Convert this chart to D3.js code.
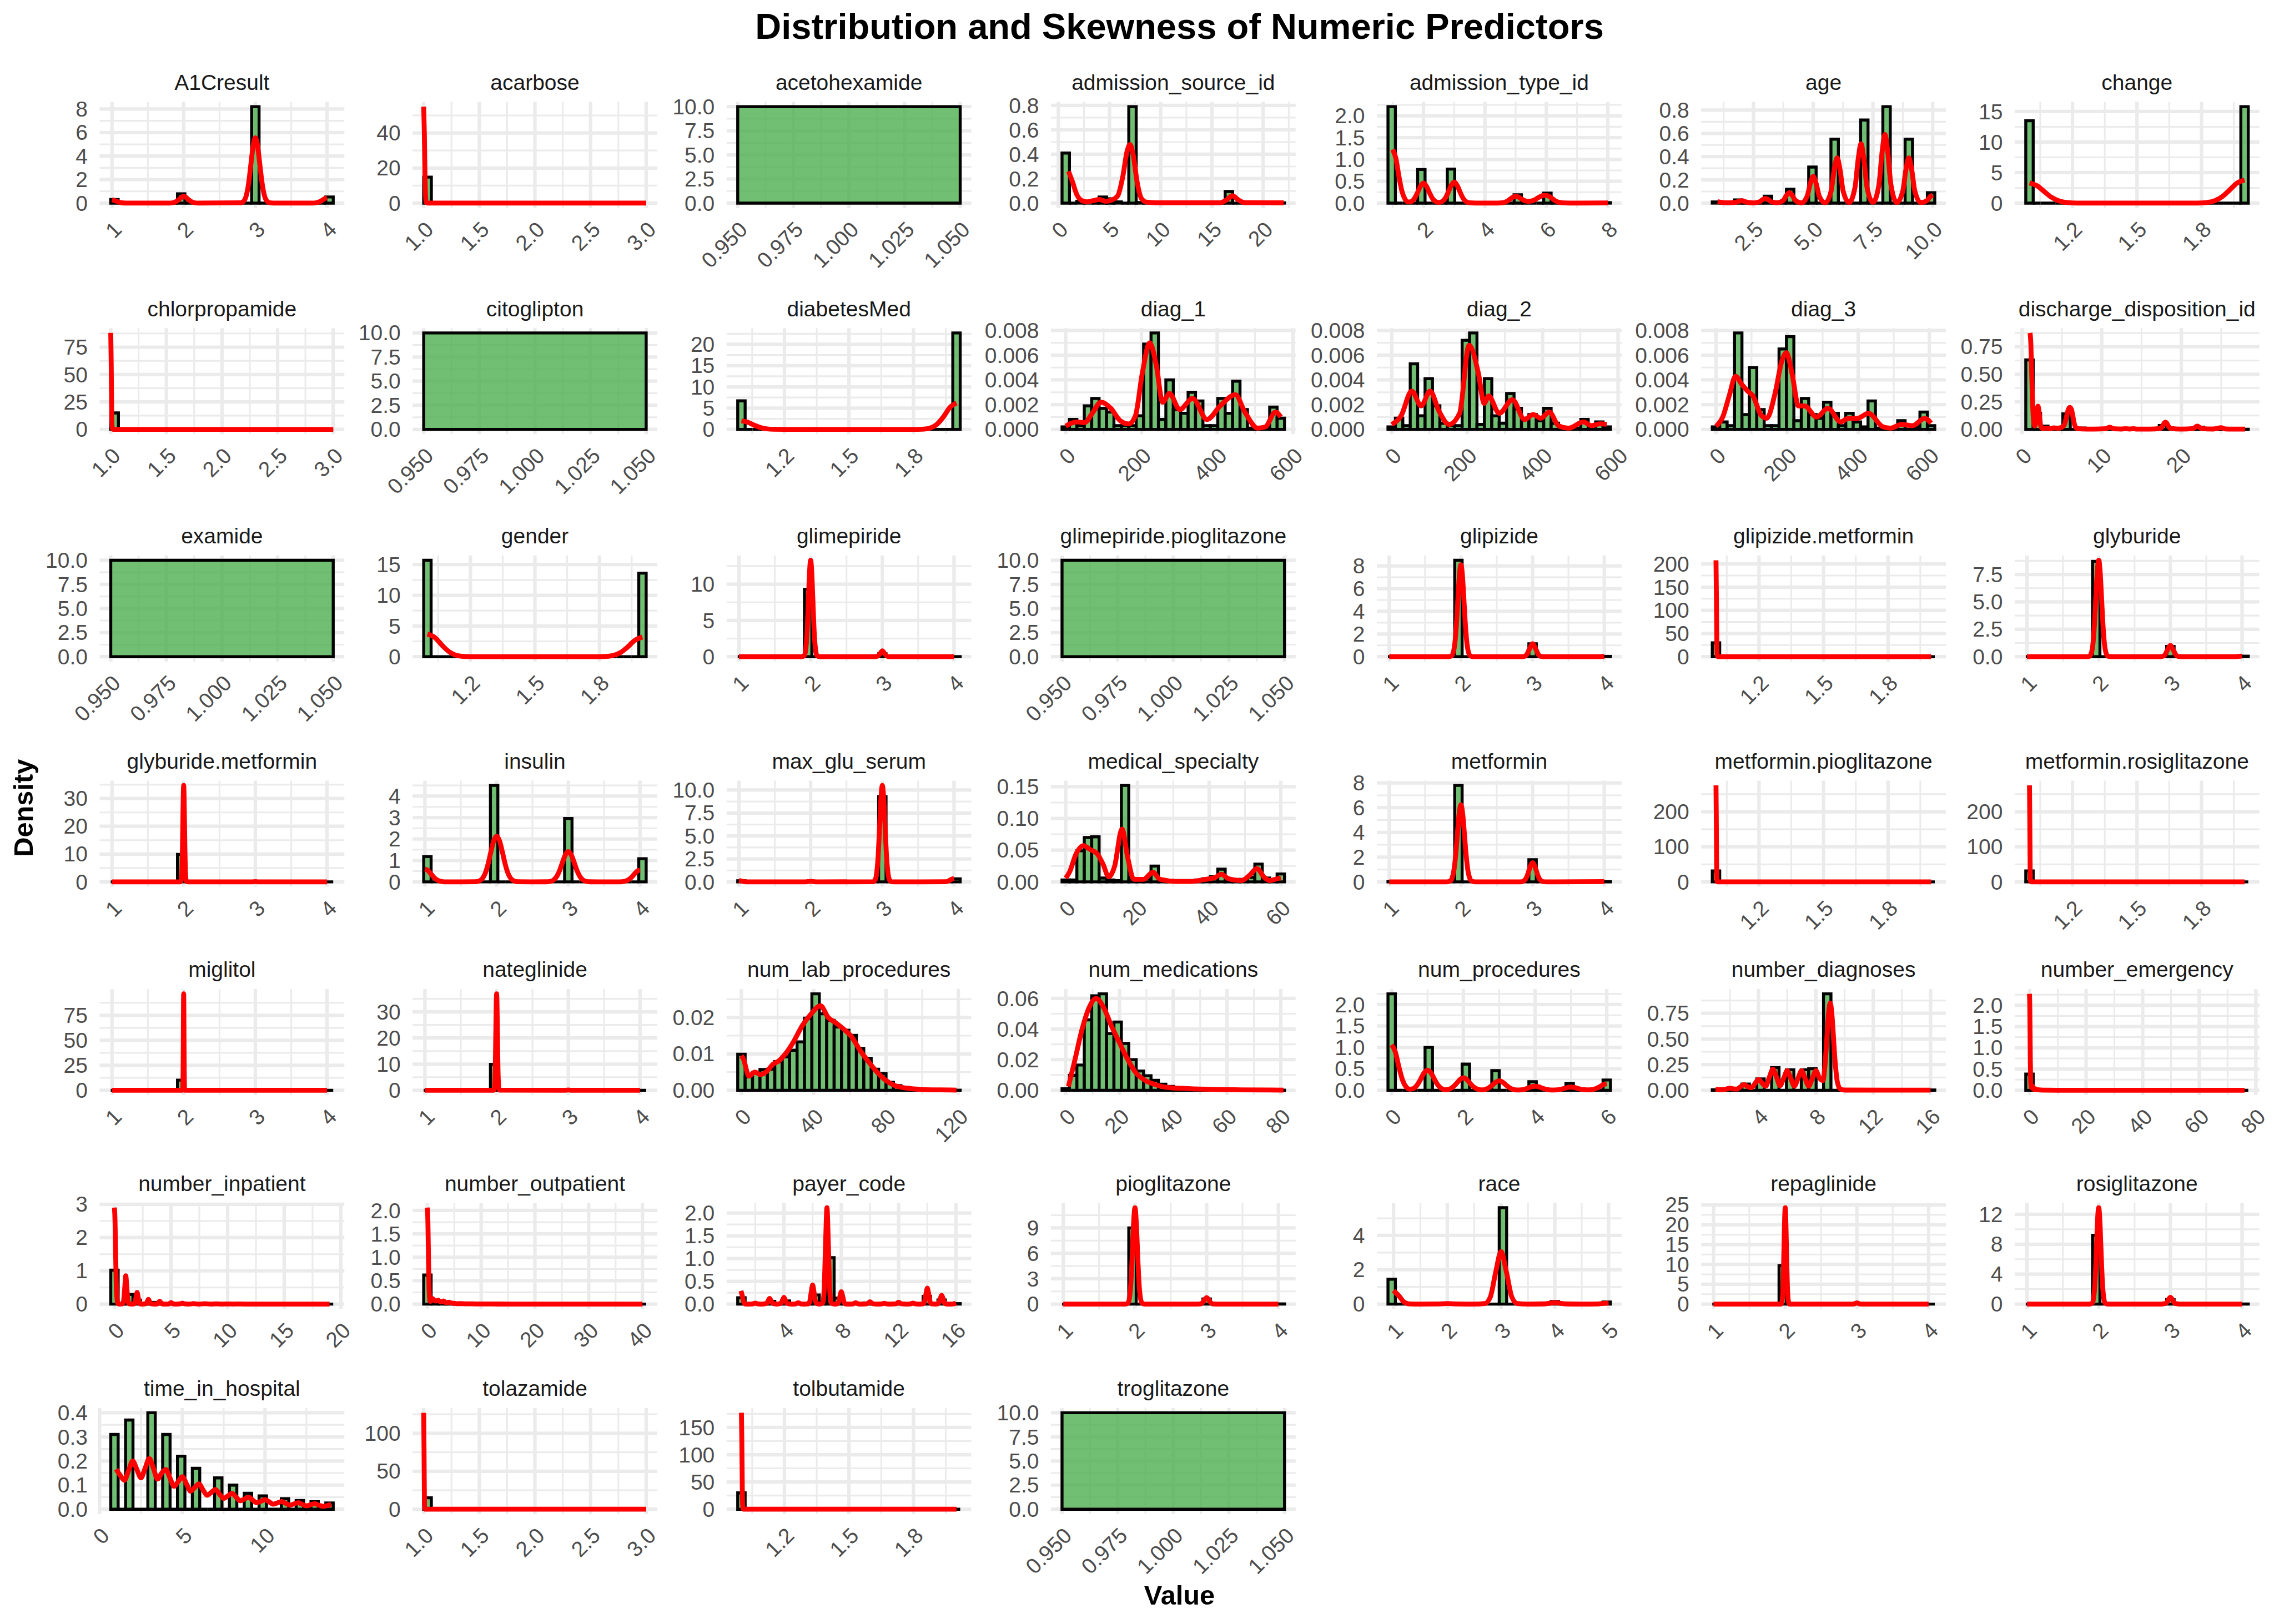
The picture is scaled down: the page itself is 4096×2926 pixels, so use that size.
<!DOCTYPE html>
<html><head><meta charset="utf-8">
<script src="https://cdn.jsdelivr.net/npm/d3@7"></script>
<style>body{margin:0;background:#fff}svg{display:block}text{font-family:"Liberation Sans",Arial,Helvetica,sans-serif}</style>
</head><body>
<svg id="chart" width="4096" height="2926" viewBox="0 0 4200 3000"></svg>
<script>
// ---------------- DATA ----------------
const varNames = ["A1Cresult","acarbose","acetohexamide","admission_source_id","admission_type_id","age","change",
"chlorpropamide","citoglipton","diabetesMed","diag_1","diag_2","diag_3","discharge_disposition_id",
"examide","gender","glimepiride","glimepiride.pioglitazone","glipizide","glipizide.metformin","glyburide",
"glyburide.metformin","insulin","max_glu_serum","medical_specialty","metformin","metformin.pioglitazone","metformin.rosiglitazone",
"miglitol","nateglinide","num_lab_procedures","num_medications","num_procedures","number_diagnoses","number_emergency",
"number_inpatient","number_outpatient","payer_code","pioglitazone","race","repaglinide","rosiglitazone",
"time_in_hospital","tolazamide","tolbutamide","troglitazone"];

const dataMin = [1,1,1,1,1,1,1, 1,1,1,0,0,0,1, 1,1,1,1,1,1,1, 1,1,1,0,1,1,1, 1,1,0,1,0,1,0, 0,0,1,1,1,1,1, 1,1,1,1];
const dataMax = [4,3,1,22,8,10,2, 3,1,2,568,570,605,28, 1,2,4,1,4,2,4, 4,4,4,60,4,2,2, 4,4,119,81,6,16,76, 19,40,16,4,5,4,4, 14,3,2,1];

const tk14 = ["1","2","3","4"], tk13 = ["1.0","1.5","2.0","2.5","3.0"], tk12 = ["1.2","1.5","1.8"];
const tkC = ["0.950","0.975","1.000","1.025","1.050"], yC = ["0.0","2.5","5.0","7.5","10.0"];
const xTickLabels = [tk14,tk13,tkC,["0","5","10","15","20"],["2","4","6","8"],["2.5","5.0","7.5","10.0"],tk12,
 tk13,tkC,tk12,["0","200","400","600"],["0","200","400","600"],["0","200","400","600"],["0","10","20"],
 tkC,tk12,tk14,tkC,tk14,tk12,tk14,
 tk14,tk14,tk14,["0","20","40","60"],tk14,tk12,tk12,
 tk14,tk14,["0","40","80","120"],["0","20","40","60","80"],["0","2","4","6"],["4","8","12","16"],["0","20","40","60","80"],
 ["0","5","10","15","20"],["0","10","20","30","40"],["4","8","12","16"],tk14,["1","2","3","4","5"],tk14,tk14,
 ["0","5","10"],tk13,tk12,tkC];
const yTickLabels = [["0","2","4","6","8"],["0","20","40"],yC,["0.0","0.2","0.4","0.6","0.8"],["0.0","0.5","1.0","1.5","2.0"],["0.0","0.2","0.4","0.6","0.8"],["0","5","10","15"],
 ["0","25","50","75"],yC,["0","5","10","15","20"],["0.000","0.002","0.004","0.006","0.008"],["0.000","0.002","0.004","0.006","0.008"],["0.000","0.002","0.004","0.006","0.008"],["0.00","0.25","0.50","0.75"],
 yC,["0","5","10","15"],["0","5","10"],yC,["0","2","4","6","8"],["0","50","100","150","200"],["0.0","2.5","5.0","7.5"],
 ["0","10","20","30"],["0","1","2","3","4"],yC,["0.00","0.05","0.10","0.15"],["0","2","4","6","8"],["0","100","200"],["0","100","200"],
 ["0","25","50","75"],["0","10","20","30"],["0.00","0.01","0.02"],["0.00","0.02","0.04","0.06"],["0.0","0.5","1.0","1.5","2.0"],["0.00","0.25","0.50","0.75"],["0.0","0.5","1.0","1.5","2.0"],
 ["0","1","2","3"],["0.0","0.5","1.0","1.5","2.0"],["0.0","0.5","1.0","1.5","2.0"],["0","3","6","9"],["0","2","4"],["0","5","10","15","20","25"],["0","4","8","12"],
 ["0.0","0.1","0.2","0.3","0.4"],["0","50","100"],["0","50","100","150"],yC];

// histogram bars: [value, density] pairs, or a list of bin densities
const bars_A1Cresult = [[1,0.31],[2,0.79],[3,8.2],[4,0.52]];
const dens_A1Cresult = [[1,0.28],[1.06,0.17],[1.12,0.04],[1.2,0.001],[1.8,0.001],[1.85,0.03],[1.9,0.15],[1.94,0.33],[1.97,0.5],[2,0.58],[2.03,0.5],[2.06,0.33],[2.1,0.15],[2.15,0.03],[2.2,0.001],[2.8,0.026],[2.85,0.27],[2.88,0.8],[2.91,1.87],[2.94,3.42],[2.97,4.92],[3,5.55],[3.03,4.92],[3.06,3.42],[3.09,1.87],[3.12,0.8],[3.15,0.27],[3.2,0.026],[3.3,0],[3.8,0.001],[3.85,0.03],[3.9,0.13],[3.94,0.27],[3.97,0.39],[4,0.45]];
const bars_acarbose = [[1,14.8]];
const dens_acarbose = [[1,55],[1.006,39.6],[1.012,14.8],[1.018,2.9],[1.024,0.3],[1.035,0],[3,0]];
const bars_acetohexamide = [[1,10]];
const dens_acetohexamide = [];
const bars_admission_source_id = [[1,0.41],[2,0.015],[3,0.005],[4,0.05],[5,0.035],[6,0.01],[7,0.79],[8,0.005],[9,0.003],[17,0.095],[20,0.003],[22,0.002]];
const dens_admission_source_id = [[1,0.26],[1.4,0.17],[1.8,0.07],[2.3,0.02],[2.8,0.01],[3.4,0.02],[4,0.03],[4.6,0.015],[5.2,0.025],[5.8,0.06],[6.3,0.22],[6.7,0.42],[7,0.48],[7.3,0.4],[7.7,0.17],[8.1,0.04],[8.6,0.008],[9.5,0.003],[15.8,0.003],[16.4,0.025],[17,0.06],[17.6,0.025],[18.2,0.004],[22,0.002]];
const bars_admission_type_id = [[1,2.21],[2,0.77],[3,0.78],[4,0.003],[5,0.19],[6,0.23],[7,0.005],[8,0.01]];
const dens_admission_type_id = [[1,1.23],[1.1,1.03],[1.2,0.62],[1.3,0.27],[1.4,0.09],[1.5,0.025],[1.6,0.035],[1.7,0.1],[1.8,0.23],[1.9,0.385],[2,0.46],[2.1,0.385],[2.2,0.23],[2.3,0.1],[2.4,0.035],[2.5,0.015],[2.6,0.035],[2.7,0.1],[2.8,0.24],[2.9,0.4],[3,0.48],[3.1,0.4],[3.2,0.24],[3.3,0.1],[3.4,0.03],[3.5,0.006],[3.7,0.001],[4.4,0.001],[4.6,0.01],[4.7,0.035],[4.8,0.08],[4.9,0.13],[5,0.156],[5.1,0.135],[5.2,0.09],[5.3,0.055],[5.4,0.04],[5.5,0.045],[5.6,0.07],[5.7,0.11],[5.8,0.15],[5.9,0.175],[6,0.177],[6.1,0.15],[6.2,0.1],[6.3,0.05],[6.4,0.02],[6.6,0.003],[7,0.002],[8,0.003]];
const bars_age = [[1,0.01],[2,0.027],[3,0.06],[4,0.12],[5,0.31],[6,0.55],[7,0.715],[8,0.83],[9,0.55],[10,0.09]];
const dens_age = [[1,0.012],[1.12,0.008],[1.25,0.004],[1.5,0.003],[1.75,0.006],[1.88,0.015],[2,0.02],[2.12,0.015],[2.25,0.006],[2.5,0.002],[2.75,0.011],[2.88,0.03],[3,0.04],[3.12,0.03],[3.25,0.011],[3.5,0.003],[3.75,0.024],[3.88,0.067],[4,0.09],[4.12,0.067],[4.25,0.024],[4.5,0.002],[4.75,0.062],[4.88,0.17],[5,0.23],[5.12,0.17],[5.25,0.062],[5.5,0.003],[5.75,0.105],[5.88,0.29],[6,0.39],[6.12,0.29],[6.25,0.105],[6.5,0.005],[6.75,0.138],[6.88,0.377],[7,0.51],[7.12,0.377],[7.25,0.138],[7.5,0.006],[7.75,0.16],[7.88,0.437],[8,0.59],[8.12,0.437],[8.25,0.16],[8.5,0.005],[8.75,0.105],[8.88,0.29],[9,0.39],[9.12,0.29],[9.25,0.105],[9.5,0.005],[9.75,0.02],[9.88,0.052],[10,0.07]];
const bars_change = [[1,13.5],[2,15.8]];
const dens_change = [[1,3.3],[1.035,2.85],[1.07,1.85],[1.1,1.0],[1.14,0.33],[1.18,0.07],[1.22,0.01],[1.3,0],[1.7,0],[1.78,0.012],[1.82,0.084],[1.86,0.37],[1.9,1.16],[1.93,2.13],[1.965,3.29],[2,3.8]];
const bars_chlorpropamide = [[1,15]];
const dens_chlorpropamide = [[1,88],[1.004,61.5],[1.008,20.7],[1.012,3.4],[1.016,0.3],[1.025,0],[3,0]];
const bars_citoglipton = [[1,10]];
const dens_citoglipton = [];
const bars_diabetesMed = [[1,6.7],[2,22.7]];
const dens_diabetesMed = [[1,2.0],[1.03,1.67],[1.06,0.97],[1.09,0.4],[1.12,0.11],[1.15,0.022],[1.2,0.001],[1.8,0.001],[1.82,0.009],[1.85,0.068],[1.88,0.35],[1.91,1.23],[1.94,3.0],[1.97,5.2],[2,6.2]];
const bars_diag_1 = [0.0002,0.0008,0.0003,0.0019,0.0025,0.0017,0.0014,0.0003,0.0003,0.0003,0.0011,0.0069,0.0078,0.0008,0.0040,0.0016,0.0013,0.0030,0.0023,0.0003,0.0003,0.0025,0.0013,0.0039,0.0016,0.0001,0,0.0001,0.0018,0.0009];
const dens_diag_1 = [[0,0.00026],[15,0.0005],[30,0.0006],[50,0.00055],[70,0.0013],[93,0.0022],[119,0.0017],[144,0.0007],[166,0.00044],[184,0.0011],[202,0.0045],[222,0.0070],[239,0.0052],[256,0.0022],[274,0.0029],[301,0.0016],[335,0.0025],[373,0.0008],[408,0.0019],[448,0.0028],[473,0.0014],[507,0.0001],[527,0.0002],[554,0.0014],[568,0.001]];
const bars_diag_2 = [0.0002,0.0009,0.0003,0.0053,0.0011,0.0041,0.0019,0.0005,0.0003,0.0003,0.0072,0.0078,0.0004,0.0041,0.0011,0.0005,0.0029,0.0017,0.0009,0.0012,0.0007,0.0017,0.0005,0.00005,0,0.0001,0.0008,0.0003,0.0006,0.0002];
const dens_diag_2 = [[0,0.0004],[25,0.0011],[53,0.0031],[78,0.0019],[102,0.0031],[125,0.0015],[152,0.0004],[180,0.0013],[205,0.0068],[230,0.0045],[245,0.0021],[257,0.0027],[285,0.0013],[320,0.0024],[352,0.0008],[375,0.0012],[395,0.0009],[418,0.0014],[442,0.0003],[470,0.0001],[508,0.0006],[530,0.0003],[552,0.00045],[570,0.0004]];
const bars_diag_3 = [0.0002,0.0006,0.0003,0.0078,0.0012,0.005,0.0016,0.0003,0.0003,0.0065,0.0075,0.0007,0.0025,0.0012,0.0009,0.0022,0.0013,0.0003,0.0013,0.0006,0.0002,0.0023,0.0001,0.0001,0.0001,0.0007,0.0003,0.0002,0.0014,0.0003];
const dens_diag_3 = [[0,0.00025],[19,0.001],[37,0.0027],[55,0.0043],[71,0.0037],[89,0.0031],[104,0.0027],[128,0.0011],[143,0.0009],[166,0.0029],[185,0.0055],[198,0.0062],[214,0.0045],[232,0.0019],[249,0.0019],[283,0.001],[315,0.0017],[351,0.0006],[372,0.0009],[398,0.0009],[429,0.0013],[470,0.0002],[491,0.0001],[522,0.0004],[553,0.0003],[587,0.0009],[605,0.0005]];
const bars_discharge_disposition_id = [[1,0.63],[2,0.145],[3,0.03],[4,0.01],[5,0.02],[6,0.14],[7,0.012],[8,0.003],[10,0.002],[11,0.006],[13,0.004],[14,0.004],[15,0.002],[16,0.001],[18,0.035],[19,0.001],[22,0.02],[23,0.004],[24,0.001],[25,0.01],[27,0.001],[28,0.001]];
const dens_discharge_disposition_id = [[1,0.875],[1.1,0.78],[1.2,0.53],[1.3,0.28],[1.4,0.12],[1.5,0.045],[1.6,0.03],[1.7,0.05],[1.8,0.11],[1.9,0.18],[2,0.21],[2.1,0.18],[2.2,0.11],[2.3,0.05],[2.4,0.02],[2.6,0.008],[3,0.012],[3.5,0.008],[4,0.014],[4.5,0.01],[5,0.02],[5.3,0.04],[5.6,0.12],[5.8,0.18],[6,0.2],[6.2,0.18],[6.4,0.11],[6.6,0.04],[6.8,0.012],[7.5,0.004],[9,0.002],[10.5,0.006],[11,0.02],[11.5,0.006],[12.5,0.003],[13,0.006],[13.5,0.003],[14,0.006],[14.5,0.002],[16,0.002],[17.4,0.01],[18,0.065],[18.6,0.01],[20,0.002],[21.5,0.008],[22,0.03],[22.5,0.008],[24,0.003],[25,0.015],[25.5,0.004],[26.5,0.002],[28,0.002]];
const bars_examide = [[1,10]];
const dens_examide = [];
const bars_gender = [[1,15.7],[2,13.6]];
const dens_gender = [[1,3.7],[1.035,3.11],[1.07,1.79],[1.1,0.83],[1.14,0.18],[1.18,0.025],[1.22,0.002],[1.3,0],[1.7,0],[1.78,0.004],[1.82,0.03],[1.86,0.18],[1.9,0.72],[1.93,1.55],[1.965,2.67],[2,3.2]];
const bars_glimepiride = [[2,9.3],[3,0.4],[4,0.01]];
const dens_glimepiride = [[1,0],[1.88,0],[1.91,0.15],[1.93,0.87],[1.95,3.3],[1.97,8.1],[1.985,11.7],[2,13.3],[2.015,11.7],[2.03,8.1],[2.05,3.3],[2.07,0.87],[2.09,0.15],[2.12,0],[2.9,0],[2.94,0.1],[2.97,0.45],[3,0.8],[3.03,0.45],[3.06,0.1],[3.1,0],[4,0]];
const bars_glimepiride_pioglitazone = [[1,10]];
const dens_glimepiride_pioglitazone = [];
const bars_glipizide = [[2,8.5],[3,1.14],[4,0.03]];
const dens_glipizide = [[1,0],[1.83,0],[1.87,0.08],[1.9,0.54],[1.92,1.43],[1.94,3.06],[1.96,5.25],[1.98,7.27],[2,8.1],[2.02,7.27],[2.04,5.25],[2.06,3.06],[2.08,1.43],[2.1,0.54],[2.13,0.08],[2.17,0],[2.84,0],[2.88,0.024],[2.92,0.2],[2.96,0.74],[3,1.14],[3.04,0.74],[3.08,0.2],[3.12,0.024],[3.16,0],[3.9,0],[4,0.03]];
const bars_glipizide_metformin = [[1,30]];
const dens_glipizide_metformin = [[1,208],[1.002,126],[1.004,28],[1.006,2.3],[1.009,0.1],[1.015,0],[2,0]];
const bars_glyburide = [[2,8.7],[3,0.94],[4,0.05]];
const dens_glyburide = [[1,0],[1.85,0],[1.87,0.04],[1.9,0.39],[1.92,1.19],[1.94,2.86],[1.96,5.34],[1.98,7.77],[2,8.8],[2.02,7.77],[2.04,5.34],[2.06,2.86],[2.08,1.19],[2.1,0.39],[2.13,0.04],[2.2,0],[2.85,0],[2.88,0.011],[2.92,0.14],[2.96,0.63],[3,1.03],[3.04,0.63],[3.08,0.14],[3.12,0.011],[3.2,0],[3.9,0],[3.95,0.03],[4,0.05]];
const bars_glyburide_metformin = [[2,9.9],[3,0.02]];
const dens_glyburide_metformin = [[1,0],[1.95,0],[1.96,0.1],[1.97,1.3],[1.976,4.2],[1.982,10.6],[1.988,20.5],[1.994,30.4],[2,34.7],[2.006,30.4],[2.012,20.5],[2.018,10.6],[2.024,4.2],[2.03,1.3],[2.04,0.1],[2.05,0],[2.96,0],[3,0.1],[3.04,0],[4,0]];
const bars_insulin = [[1,1.18],[2,4.5],[3,2.96],[4,1.08]];
const dens_insulin = [[1,0.6],[1.04,0.54],[1.08,0.39],[1.12,0.23],[1.16,0.11],[1.2,0.043],[1.25,0.01],[1.3,0.002],[1.5,0],[1.7,0.006],[1.75,0.034],[1.8,0.15],[1.84,0.39],[1.88,0.82],[1.92,1.4],[1.96,1.92],[2,2.13],[2.04,1.92],[2.08,1.4],[2.12,0.82],[2.16,0.39],[2.2,0.15],[2.25,0.034],[2.3,0.006],[2.5,0],[2.7,0.004],[2.75,0.023],[2.8,0.1],[2.84,0.26],[2.88,0.54],[2.92,0.92],[2.96,1.27],[3,1.41],[3.04,1.27],[3.08,0.92],[3.12,0.54],[3.16,0.26],[3.2,0.1],[3.25,0.023],[3.3,0.004],[3.5,0],[3.7,0],[3.75,0.009],[3.8,0.04],[3.84,0.1],[3.88,0.21],[3.92,0.36],[3.96,0.5],[4,0.55]];
const bars_max_glu_serum = [[1,0.12],[2,0.05],[3,9.27],[4,0.33]];
const dens_max_glu_serum = [[1,0.136],[1.04,0.08],[1.08,0.012],[1.12,0],[1.92,0],[1.96,0.03],[2,0.055],[2.04,0.03],[2.08,0],[2.87,0.016],[2.9,0.22],[2.92,0.89],[2.94,2.6],[2.96,5.7],[2.98,9.0],[3,10.5],[3.02,9.0],[3.04,5.7],[3.06,2.6],[3.08,0.89],[3.1,0.22],[3.13,0.016],[3.2,0],[3.88,0.01],[3.92,0.08],[3.96,0.27],[4,0.37]];
const bars_medical_specialty = [0.003,0.003,0.049,0.07,0.071,0.006,0.003,0.002,0.152,0.003,0.002,0.005,0.025,0.002,0.001,0.002,0.002,0.002,0.003,0.005,0.008,0.02,0.002,0.002,0.004,0.007,0.028,0.006,0.002,0.0125];
const dens_medical_specialty = [[0,0.006],[1.1,0.016],[2.8,0.043],[4.9,0.057],[6.8,0.051],[8.8,0.044],[10.4,0.028],[12,0.008],[13.6,0.024],[15.7,0.083],[17.3,0.038],[19,0.004],[21.7,0.004],[24.3,0.015],[26.3,0.004],[31,0.0007],[35,0.0007],[39,0.004],[41.7,0.007],[43.4,0.012],[45.4,0.005],[49,0.002],[51.4,0.011],[53.3,0.021],[55.4,0.007],[57,0.002],[59,0.005],[60,0.006]];
const bars_metformin = [[1,0.02],[2,7.8],[3,1.79],[4,0.02]];
const dens_metformin = [[1,0],[1.8,0],[1.85,0.07],[1.875,0.27],[1.9,0.84],[1.925,2.03],[1.95,3.79],[1.975,5.5],[2,6.24],[2.025,5.5],[2.05,3.79],[2.075,2.03],[2.1,0.84],[2.125,0.27],[2.15,0.07],[2.2,0],[2.8,0],[2.85,0.017],[2.875,0.07],[2.9,0.21],[2.925,0.5],[2.95,0.94],[2.975,1.36],[3,1.55],[3.025,1.36],[3.05,0.94],[3.075,0.5],[3.1,0.21],[3.125,0.07],[3.15,0.017],[3.2,0],[4,0.02]];
const bars_metformin_pioglitazone = [[1,31]];
const dens_metformin_pioglitazone = [[1,275],[1.0015,172],[1.003,42],[1.0045,4.1],[1.006,0.2],[1.01,0],[2,0]];
const bars_metformin_rosiglitazone = [[1,31]];
const dens_metformin_rosiglitazone = [[1,275],[1.0015,172],[1.003,42],[1.0045,4.1],[1.006,0.2],[1.01,0],[2,0]];
const bars_miglitol = [[2,10.1]];
const dens_miglitol = [[1,0],[1.98,0],[1.987,1],[1.99,6.5],[1.992,17],[1.994,36.5],[1.996,62.6],[1.998,86.6],[2,96.5],[2.002,86.6],[2.004,62.6],[2.006,36.5],[2.008,17],[2.01,6.5],[2.013,1],[2.02,0],[4,0]];
const bars_nateglinide = [[2,9.9],[3,0.03]];
const dens_nateglinide = [[1,0],[1.96,0],[1.97,0.9],[1.975,2.8],[1.98,7],[1.985,14.6],[1.99,24.4],[1.995,33.2],[2,36.9],[2.005,33.2],[2.01,24.4],[2.015,14.6],[2.02,7],[2.025,2.8],[2.03,0.9],[2.04,0.05],[2.97,0],[3,0.12],[3.03,0],[4,0]];
const bars_num_lab_procedures = [0.0099,0.0037,0.0049,0.0057,0.0058,0.0079,0.0092,0.011,0.0133,0.0198,0.0265,0.021,0.0192,0.0174,0.0165,0.0151,0.0115,0.0088,0.0058,0.0046,0.0022,0.0013,0.0008,0.0005,0.0003,0.0002,0.0001,0.00005,0.00003,0.00002];
const dens_num_lab_procedures = [[0,0.0095],[1,0.0087],[4.2,0.0039],[7.4,0.005],[10.6,0.0043],[13.8,0.0051],[17.6,0.0072],[20.8,0.0081],[24,0.0098],[28.8,0.0133],[33.6,0.0177],[38.4,0.0209],[43.8,0.0232],[48,0.02],[52,0.0186],[56.6,0.0168],[60.8,0.0148],[65.6,0.011],[70.4,0.0078],[75.2,0.0049],[80,0.0027],[84.8,0.0013],[91.2,0.0006],[100.8,0.0002],[110.4,0.0001],[119,0.00005]];
const bars_num_medications = [0.001,0.0098,0.0165,0.046,0.0617,0.063,0.037,0.0446,0.0306,0.02,0.0126,0.0095,0.0065,0.004,0.0025,0.0018,0.0012,0.0008,0.0006,0.0005,0.0004,0.0003,0.0002,0.0002,0.0001,0.0001,0.0001,0.00005,0.00003,0.00005];
const dens_num_medications = [[1,0.0025],[3.3,0.019],[6.1,0.040],[8.7,0.054],[11.3,0.060],[14.1,0.054],[17,0.042],[20,0.031],[22.8,0.021],[26,0.0116],[29.3,0.0067],[33,0.0039],[38,0.0018],[45.6,0.0011],[54,0.0006],[65,0.0003],[81,0.0001]];
const bars_num_procedures = [[0,2.25],[1,1.0],[2,0.61],[3,0.46],[4,0.2],[5,0.16],[6,0.24]];
const dens_num_procedures = [[0,1.06],[0.1,0.9],[0.2,0.55],[0.3,0.245],[0.4,0.08],[0.5,0.026],[0.6,0.039],[0.7,0.11],[0.8,0.245],[0.9,0.4],[1,0.47],[1.1,0.4],[1.2,0.245],[1.3,0.11],[1.4,0.036],[1.5,0.013],[1.6,0.024],[1.7,0.068],[1.8,0.15],[1.9,0.247],[2,0.29],[2.1,0.247],[2.2,0.15],[2.3,0.068],[2.4,0.025],[2.5,0.009],[2.6,0.018],[2.7,0.052],[2.8,0.115],[2.9,0.187],[3,0.22],[3.1,0.187],[3.2,0.115],[3.3,0.052],[3.4,0.017],[3.5,0.005],[3.6,0.009],[3.7,0.022],[3.8,0.05],[3.9,0.081],[4,0.095],[4.1,0.081],[4.2,0.05],[4.3,0.023],[4.4,0.01],[4.5,0.006],[4.6,0.009],[4.7,0.019],[4.8,0.039],[4.9,0.064],[5,0.075],[5.1,0.064],[5.2,0.04],[5.3,0.02],[5.4,0.013],[5.5,0.01],[5.6,0.016],[5.7,0.04],[5.8,0.08],[5.9,0.13],[6,0.15]];
const bars_number_diagnoses = [[1,0.005],[2,0.02],[3,0.06],[4,0.11],[5,0.22],[6,0.2],[7,0.2],[8,0.21],[9,0.94],[10,0.004],[11,0.002],[12,0.002],[13,0.002],[14,0.001],[15,0.001],[16,0.003]];
const dens_number_diagnoses = [[1,0.008],[1.5,0.006],[1.75,0.012],[2,0.02],[2.25,0.013],[2.5,0.012],[2.75,0.035],[3,0.055],[3.25,0.035],[3.5,0.025],[3.75,0.065],[4,0.105],[4.25,0.07],[4.5,0.04],[4.75,0.125],[5,0.205],[5.25,0.13],[5.5,0.045],[5.75,0.115],[6,0.19],[6.25,0.115],[6.5,0.04],[6.75,0.115],[7,0.19],[7.25,0.115],[7.5,0.04],[7.75,0.115],[8,0.19],[8.25,0.12],[8.5,0.095],[8.6,0.19],[8.7,0.36],[8.8,0.58],[8.9,0.77],[9,0.85],[9.1,0.77],[9.2,0.58],[9.3,0.36],[9.4,0.19],[9.5,0.08],[9.7,0.013],[10,0.002],[16,0.001]];
const bars_number_emergency = [[0,0.38],[2.5,0.012],[5,0.003]];
const dens_number_emergency = [[0,2.27],[0.1,2.0],[0.2,1.35],[0.3,0.7],[0.4,0.3],[0.5,0.12],[0.6,0.07],[0.8,0.08],[1,0.1],[1.2,0.08],[1.4,0.03],[1.7,0.02],[2,0.04],[2.3,0.02],[3,0.012],[4,0.006],[6,0.002],[10,0],[76,0]];
const bars_number_inpatient = [[0,1.02],[1,0.29],[2,0.12],[3,0.05],[4,0.03],[5,0.015],[6,0.01],[7,0.006],[8,0.004],[9,0.003],[10,0.002],[11,0.002],[12,0.001]];
const dens_number_inpatient = [[0,2.9],[0.05,2.5],[0.1,1.6],[0.15,0.76],[0.2,0.27],[0.3,0.015],[0.5,0],[0.7,0.006],[0.8,0.08],[0.9,0.45],[1,0.85],[1.1,0.45],[1.2,0.08],[1.3,0.006],[1.5,0],[1.7,0.002],[1.8,0.033],[1.9,0.19],[2,0.35],[2.1,0.19],[2.2,0.033],[2.3,0.002],[2.5,0],[2.8,0.013],[2.9,0.078],[3,0.14],[3.1,0.078],[3.2,0.013],[3.5,0],[3.8,0.008],[3.9,0.047],[4,0.085],[4.1,0.047],[4.2,0.008],[4.5,0],[4.8,0.004],[4.9,0.024],[5,0.043],[5.1,0.024],[5.2,0.004],[5.5,0],[5.9,0.015],[6,0.028],[6.1,0.015],[6.5,0],[6.9,0.01],[7,0.017],[7.1,0.01],[7.5,0],[8,0.011],[8.5,0],[9,0.008],[9.5,0],[10,0.005],[10.5,0],[11,0.004],[11.5,0],[19,0]];
const bars_number_outpatient = [[0,0.62],[1,0.06],[3,0.02],[4,0.012],[5,0.008],[7,0.003],[8,0.002],[10,0.001]];
const dens_number_outpatient = [[0,2.06],[0.1,1.72],[0.2,1.0],[0.3,0.41],[0.4,0.13],[0.5,0.06],[0.6,0.06],[0.75,0.08],[1,0.116],[1.25,0.08],[1.5,0.065],[1.75,0.07],[2,0.083],[2.25,0.06],[2.5,0.045],[2.75,0.05],[3,0.066],[3.3,0.04],[3.5,0.03],[4,0.04],[4.5,0.02],[5,0.017],[5.5,0.008],[6,0.01],[7,0.006],[8,0.005],[9,0.003],[10,0.003],[11,0.002],[13,0.001],[16,0],[40,0]];
const bars_payer_code = [[1,0.14],[2,0.01],[3,0.06],[4,0.07],[5,0.015],[6,0.2],[7,1.02],[8,0.13],[9,0.015],[10,0.025],[11,0.008],[12,0.02],[13,0.01],[14,0.17],[15,0.09],[16,0.01]];
const dens_payer_code = [[1,0.29],[1.1,0.176],[1.2,0.04],[1.3,0.003],[1.5,0],[1.8,0.003],[2,0.02],[2.2,0.003],[2.5,0],[2.8,0.017],[2.9,0.076],[3,0.125],[3.1,0.076],[3.2,0.017],[3.5,0],[3.8,0.02],[3.9,0.089],[4,0.146],[4.1,0.089],[4.2,0.02],[4.5,0],[4.8,0.004],[5,0.03],[5.2,0.004],[5.5,0],[5.7,0.005],[5.8,0.057],[5.9,0.255],[6,0.42],[6.1,0.255],[6.2,0.057],[6.3,0.01],[6.5,0],[6.7,0.023],[6.8,0.286],[6.9,1.287],[7,2.12],[7.1,1.287],[7.2,0.286],[7.3,0.023],[7.5,0],[7.7,0.003],[7.8,0.036],[7.9,0.164],[8,0.27],[8.1,0.164],[8.2,0.036],[8.3,0.003],[8.5,0],[8.8,0.004],[9,0.03],[9.2,0.004],[9.5,0],[9.8,0.007],[10,0.05],[10.2,0.007],[10.5,0],[10.8,0.002],[11,0.017],[11.2,0.002],[11.5,0],[11.8,0.005],[12,0.04],[12.2,0.005],[12.5,0],[12.8,0.003],[13,0.02],[13.2,0.003],[13.5,0],[13.7,0.004],[13.8,0.047],[13.9,0.212],[14,0.35],[14.1,0.212],[14.2,0.047],[14.3,0.004],[14.5,0],[14.7,0.002],[14.8,0.026],[14.9,0.115],[15,0.19],[15.1,0.115],[15.2,0.026],[15.3,0.002],[15.5,0],[15.8,0.003],[16,0.02]];
const bars_pioglitazone = [[2,9.0],[3,0.6],[4,0.02]];
const dens_pioglitazone = [[1,0],[1.87,0],[1.9,0.1],[1.92,0.55],[1.94,2.07],[1.96,5.35],[1.98,9.43],[2,11.4],[2.02,9.43],[2.04,5.35],[2.06,2.07],[2.08,0.55],[2.1,0.1],[2.13,0],[2.87,0],[2.9,0.007],[2.92,0.036],[2.94,0.14],[2.96,0.36],[2.98,0.63],[3,0.76],[3.02,0.63],[3.04,0.36],[3.06,0.14],[3.08,0.036],[3.1,0.007],[3.13,0],[4,0]];
const bars_race = [[1,1.45],[2,0.05],[3,5.62],[4,0.15],[5,0.12]];
const dens_race = [[1,0.79],[1.1,0.48],[1.2,0.107],[1.3,0.009],[1.5,0],[1.8,0.004],[2,0.028],[2.2,0.004],[2.5,0],[2.7,0.034],[2.8,0.41],[2.9,1.86],[3,3.06],[3.1,1.86],[3.2,0.41],[3.3,0.034],[3.5,0],[3.8,0.011],[3.9,0.049],[4,0.08],[4.1,0.049],[4.2,0.011],[4.5,0],[4.8,0.009],[4.9,0.04],[5,0.065]];
const bars_repaglinide = [[2,9.7],[3,0.03]];
const dens_repaglinide = [[1,0],[1.94,0],[1.95,0.25],[1.96,1.3],[1.97,4.7],[1.98,11.7],[1.99,20.1],[2,24.3],[2.01,20.1],[2.02,11.7],[2.03,4.7],[2.04,1.3],[2.05,0.25],[2.06,0],[2.95,0],[3,0.3],[3.05,0],[4,0]];
const bars_rosiglitazone = [[2,9.2],[3,0.6],[4,0.01]];
const dens_rosiglitazone = [[1,0],[1.88,0],[1.91,0.14],[1.925,0.57],[1.94,1.74],[1.955,4.19],[1.97,7.83],[1.985,11.4],[2,12.9],[2.015,11.4],[2.03,7.83],[2.045,4.19],[2.06,1.74],[2.075,0.57],[2.09,0.14],[2.12,0],[2.88,0],[2.91,0.04],[2.94,0.12],[2.955,0.29],[2.97,0.55],[2.985,0.79],[3,0.9],[3.015,0.79],[3.03,0.55],[3.045,0.29],[3.06,0.12],[3.09,0.04],[3.12,0],[4,0]];
const bars_time_in_hospital = [[1,0.31],[2,0.37],[3,0.4],[4,0.31],[5,0.22],[6,0.17],[7,0.13],[8,0.1],[9,0.066],[10,0.055],[11,0.044],[12,0.036],[13,0.031],[14,0.026]];
const dens_time_in_hospital = [[1,0.166],[1.25,0.14],[1.5,0.12],[1.75,0.16],[2,0.2],[2.25,0.165],[2.5,0.13],[2.75,0.17],[3,0.21],[3.25,0.17],[3.5,0.125],[3.75,0.15],[4,0.165],[4.25,0.13],[4.5,0.095],[4.75,0.115],[5,0.135],[5.25,0.105],[5.5,0.075],[5.75,0.09],[6,0.105],[6.25,0.08],[6.5,0.058],[6.75,0.07],[7,0.082],[7.25,0.062],[7.5,0.045],[7.75,0.055],[8,0.066],[8.25,0.05],[8.5,0.035],[8.75,0.042],[9,0.05],[9.25,0.038],[9.5,0.027],[9.75,0.033],[10,0.04],[10.25,0.03],[10.5,0.021],[10.75,0.026],[11,0.032],[11.25,0.024],[11.5,0.017],[11.75,0.022],[12,0.027],[12.25,0.02],[12.5,0.014],[12.75,0.018],[13,0.023],[13.25,0.017],[13.5,0.012],[13.75,0.015],[14,0.02]];
const bars_tolazamide = [[1,15]];
const dens_tolazamide = [[1,127],[1.003,80],[1.006,20.5],[1.009,2.1],[1.012,0.1],[1.02,0],[3,0]];
const bars_tolbutamide = [[1,30]];
const dens_tolbutamide = [[1,177],[1.002,122],[1.004,40.7],[1.006,6.5],[1.008,0.5],[1.012,0],[2,0]];
const bars_troglitazone = [[1,10]];
const dens_troglitazone = [];

const barsTable = [bars_A1Cresult,bars_acarbose,bars_acetohexamide,bars_admission_source_id,bars_admission_type_id,bars_age,bars_change,
 bars_chlorpropamide,bars_citoglipton,bars_diabetesMed,bars_diag_1,bars_diag_2,bars_diag_3,bars_discharge_disposition_id,
 bars_examide,bars_gender,bars_glimepiride,bars_glimepiride_pioglitazone,bars_glipizide,bars_glipizide_metformin,bars_glyburide,
 bars_glyburide_metformin,bars_insulin,bars_max_glu_serum,bars_medical_specialty,bars_metformin,bars_metformin_pioglitazone,bars_metformin_rosiglitazone,
 bars_miglitol,bars_nateglinide,bars_num_lab_procedures,bars_num_medications,bars_num_procedures,bars_number_diagnoses,bars_number_emergency,
 bars_number_inpatient,bars_number_outpatient,bars_payer_code,bars_pioglitazone,bars_race,bars_repaglinide,bars_rosiglitazone,
 bars_time_in_hospital,bars_tolazamide,bars_tolbutamide,bars_troglitazone];
const densTable = [dens_A1Cresult,dens_acarbose,dens_acetohexamide,dens_admission_source_id,dens_admission_type_id,dens_age,dens_change,
 dens_chlorpropamide,dens_citoglipton,dens_diabetesMed,dens_diag_1,dens_diag_2,dens_diag_3,dens_discharge_disposition_id,
 dens_examide,dens_gender,dens_glimepiride,dens_glimepiride_pioglitazone,dens_glipizide,dens_glipizide_metformin,dens_glyburide,
 dens_glyburide_metformin,dens_insulin,dens_max_glu_serum,dens_medical_specialty,dens_metformin,dens_metformin_pioglitazone,dens_metformin_rosiglitazone,
 dens_miglitol,dens_nateglinide,dens_num_lab_procedures,dens_num_medications,dens_num_procedures,dens_number_diagnoses,dens_number_emergency,
 dens_number_inpatient,dens_number_outpatient,dens_payer_code,dens_pioglitazone,dens_race,dens_repaglinide,dens_rosiglitazone,
 dens_time_in_hospital,dens_tolazamide,dens_tolbutamide,dens_troglitazone];

// ---------------- LAYOUT ----------------
const COLS = [184, 762, 1342, 1941, 2543, 3142, 3721];
const ROWS = [188, 606, 1026, 1442, 1827, 2222, 2601];
const PW = 452, PH = 196;
const FONT_AX = 40, FONT_STRIP = 40;

const svg = d3.select("#chart");
svg.append("rect").attr("width",4200).attr("height",3000).attr("fill","#fff");

svg.append("text").attr("x",(COLS[0]+COLS[6]+PW)/2).attr("y",72).attr("text-anchor","middle")
  .attr("font-size",66.7).attr("font-weight","bold").attr("fill","#000")
  .text("Distribution and Skewness of Numeric Predictors");
svg.append("text").attr("transform",`translate(60,${(ROWS[0]+ROWS[6]+PH)/2}) rotate(-90)`).attr("text-anchor","middle")
  .attr("font-size",50).attr("font-weight","bold").attr("fill","#000").text("Density");
svg.append("text").attr("x",(COLS[0]+COLS[6]+PW)/2).attr("y",2964).attr("text-anchor","middle")
  .attr("font-size",50).attr("font-weight","bold").attr("fill","#000").text("Value");

function minorsOf(ticks, dom){
  const step = ticks[1]-ticks[0], out=[];
  for(let k=-1;k<ticks.length;k++){
    const v = ticks[0] + (k+0.5)*step;
    if(v>=dom[0] && v<=dom[1]) out.push(v);
  }
  return out;
}

// histogram bins as ggplot2 (bins = 30, boundary = width/2)
function binLayout(mn, mx){
  const w = (mn === mx) ? 0.1 : (mx - mn)/29;
  const boundary = w/2;
  const shift = Math.floor((mn - boundary)/w + 1e-9);
  const origin = boundary + shift*w;
  const maxX = mx + (1 - 1e-8)*w;
  const nb = Math.max(1, Math.floor((maxX - origin)/w + 1e-10));
  return {w, origin, nb};
}

varNames.forEach((name, i) => {
  const col = i % 7, row = Math.floor(i/7);
  const px = COLS[col], py = ROWS[row];
  const mn = dataMin[i], mx = dataMax[i];
  const {w, origin, nb} = binLayout(mn, mx);
  const lo = origin, hi = origin + nb*w;
  const heights = new Array(nb).fill(0);
  barsTable[i].forEach((d,j) => {
    if (Array.isArray(d)) {
      const k = Math.min(nb-1, Math.max(0, Math.ceil((d[0]-origin-1e-8*w)/w) - 1));
      heights[k] += d[1];
    } else if (j < nb) heights[j] = d;
  });
  const dens = densTable[i];
  const ymax = Math.max(d3.max(heights), d3.max(dens, d=>d[1]) || 0);
  const R = hi - lo;
  const xDom = [lo - 0.05*R, hi + 0.05*R];
  const yDom = [-0.05*ymax, 1.05*ymax];
  const x = d3.scaleLinear().domain(xDom).range([px, px+PW]);
  const y = d3.scaleLinear().domain(yDom).range([py+PH, py]);
  const xt = xTickLabels[i].map(Number), yt = yTickLabels[i].map(Number);

  const g = svg.append("g");
  minorsOf(xt, xDom).forEach(v => g.append("line").attr("x1",x(v)).attr("x2",x(v)).attr("y1",py).attr("y2",py+PH)
     .attr("stroke","#EBEBEB").attr("stroke-width",3.2));
  minorsOf(yt, yDom).forEach(v => g.append("line").attr("y1",y(v)).attr("y2",y(v)).attr("x1",px).attr("x2",px+PW)
     .attr("stroke","#EBEBEB").attr("stroke-width",3.2));
  xt.forEach(v => g.append("line").attr("x1",x(v)).attr("x2",x(v)).attr("y1",py).attr("y2",py+PH)
     .attr("stroke","#EBEBEB").attr("stroke-width",6.4));
  yt.forEach(v => g.append("line").attr("y1",y(v)).attr("y2",y(v)).attr("x1",px).attr("x2",px+PW)
     .attr("stroke","#EBEBEB").attr("stroke-width",6.4));

  g.selectAll("path.bar").data(heights).enter().append("path").attr("class","bar")
    .attr("d",(h,k) => {
      const x0 = x(lo + k*w), x1 = x(lo + (k+1)*w), y0 = y(0), y1 = y(h);
      return `M${x0},${y0}V${y1}H${x1}V${y0}Z`;
    })
    .attr("fill","#4CAF50").attr("fill-opacity",0.8)
    .attr("stroke","#000").attr("stroke-width",5.5).attr("stroke-linejoin","miter");

  if (dens.length) {
    const line = d3.line().x(d=>x(d[0])).y(d=>y(d[1])).curve(d3.curveMonotoneX);
    g.append("path").attr("d", line(dens)).attr("fill","none").attr("stroke","#FF0000")
      .attr("stroke-width",9).attr("stroke-linejoin","round");
  }

  svg.append("text").attr("x",px+PW/2).attr("y",py-36).attr("dy","0.35em").attr("text-anchor","middle")
    .attr("font-size",FONT_STRIP).attr("fill","#1A1A1A").text(name);

  yTickLabels[i].forEach((t,k) => svg.append("text").attr("x",px-22).attr("y",y(yt[k])).attr("dy","0.35em")
    .attr("text-anchor","end").attr("font-size",FONT_AX).attr("fill","#4D4D4D").text(t));
  xTickLabels[i].forEach((t,k) => svg.append("text")
    .attr("transform",`translate(${x(xt[k])},${py+PH+22}) rotate(-45)`).attr("dy","0.72em")
    .attr("text-anchor","end").attr("font-size",FONT_AX).attr("fill","#4D4D4D").text(t));
});
</script>
</body></html>
